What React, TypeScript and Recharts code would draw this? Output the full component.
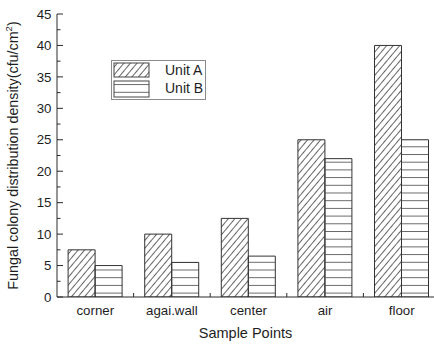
import React from "react";
import { BarChart, Bar, XAxis, YAxis } from "recharts";

const categories = ["corner", "agai.wall", "center", "air", "floor"];
const unitA = [7.5, 10, 12.5, 25, 40];
const unitB = [5, 5.5, 6.5, 22, 25];
const yTicks = [0, 2.5, 5, 7.5, 10, 12.5, 15, 17.5, 20, 22.5, 25, 27.5, 30, 32.5, 35, 37.5, 40, 42.5, 45];
const seriesNames = ["Unit A", "Unit B"];

const data = categories.map((c, i) => ({ name: c, a: unitA[i], b: unitB[i] }));

const W = 450;
const H = 346;
const M = { top: 14, right: 10, left: 0, bottom: 0 };
const YW = 57;
const XH = 49;
const BAND = (W - M.left - M.right - YW) / categories.length;
const FONT = "'Liberation Sans', Arial, sans-serif";
const TXT = "#1e1e1e";
const AX = "#2a2a2a";

const Patterns = ({ p }: { p: string }) => (
  <defs>
    <pattern id={p + "diag"} patternUnits="userSpaceOnUse" width={5} height={10} patternTransform="rotate(40)">
      <line x1={0.5} y1={0} x2={0.5} y2={10} stroke="#555" strokeWidth={0.9} />
    </pattern>
    <pattern id={p + "horiz"} patternUnits="userSpaceOnUse" width={10} height={7.7}>
      <line x1={0} y1={0.5} x2={10} y2={0.5} stroke="#555" strokeWidth={0.9} />
    </pattern>
  </defs>
);

const YTick = (props: any) => {
  const { x, y, payload } = props;
  const v = payload.value;
  const major = Math.abs(v % 5) < 1e-6;
  const ax = x + 5.5;
  return (
    <g>
      <line x1={ax} x2={ax + (major ? 6 : 3.5)} y1={y} y2={y} stroke={AX} strokeWidth={1} />
      {major && (
        <text x={x} y={y} dy={4.7} textAnchor="end" fontSize={13.3} fontFamily={FONT} fill={TXT}>
          {v}
        </text>
      )}
    </g>
  );
};

const XTick = (props: any) => {
  const { x, y, payload } = props;
  const bx = x + BAND / 2;
  return (
    <g>
      <line x1={bx} x2={bx} y1={y} y2={y - 4} stroke={AX} strokeWidth={1} />
      <text x={x} y={y + 18} textAnchor="middle" fontSize={13.3} fontFamily={FONT} fill={TXT}>
        {payload.value}
      </text>
    </g>
  );
};

const YLabel = (props: any) => {
  const vb = props.viewBox || { x: 0, y: 14, width: 57, height: 283 };
  const cx = 13;
  const cy = vb.y + vb.height / 2;
  return (
    <text
      x={cx}
      y={cy}
      transform={`rotate(-90, ${cx}, ${cy})`}
      textAnchor="middle"
      dominantBaseline="central"
      fontSize={14.3}
      fontFamily={FONT}
      fill={TXT}
    >
      Fungal colony distribution density(cfu/cm
      <tspan fontSize={9.5} dy={-5}>2</tspan>
      <tspan dy={5}>)</tspan>
    </text>
  );
};

const XLabel = (props: any) => {
  const vb = props.viewBox || { x: 57, y: 297, width: 383, height: 49 };
  return (
    <text
      x={vb.x + vb.width / 2 - 3}
      y={338}
      textAnchor="middle"
      fontSize={14.5}
      fontFamily={FONT}
      fill={TXT}
    >
      Sample Points
    </text>
  );
};

const LegendBox = () => (
  <div
    style={{
      position: "absolute",
      left: 111,
      top: 60,
      width: 93,
      height: 38,
      border: "1px solid #8a8a8a",
      background: "#fff",
      boxSizing: "content-box",
    }}
  >
    <svg width={93} height={38} style={{ display: "block" }}>
      <Patterns p="lg" />
      {seriesNames.map((n, i) => (
        <g key={n}>
          <rect
            x={2}
            y={2 + i * 18}
            width={35}
            height={i === 0 ? 14 : 16}
            fill={`url(#lg${i === 0 ? "diag" : "horiz"})`}
            stroke="#444"
            strokeWidth={1}
          />
          <text x={53} y={14 + i * 18} fontSize={14} fontFamily={FONT} fill={TXT}>
            {n}
          </text>
        </g>
      ))}
    </svg>
  </div>
);

export default function App() {
  return (
    <div style={{ position: "absolute", left: 0, top: 0, width: 434, height: 346, overflow: "hidden", background: "#fff" }}>
      <BarChart width={W} height={H} data={data} margin={M} barCategoryGap="14.5%" barGap={0}>
        <Patterns p="ch" />
        <XAxis
          dataKey="name"
          height={XH}
          tickLine={false}
          tickSize={0}
          tickMargin={0}
          tick={<XTick />}
          interval={0}
          axisLine={{ stroke: AX, strokeWidth: 1 }}
          label={<XLabel />}
        />
        <YAxis
          width={YW}
          domain={[0, 45]}
          ticks={yTicks}
          interval={0}
          tickLine={false}
          tickSize={0}
          tickMargin={5.5}
          tick={<YTick />}
          axisLine={{ stroke: AX, strokeWidth: 1 }}
          label={<YLabel />}
          allowDataOverflow
        />
        <Bar dataKey="a" name={seriesNames[0]} fill="url(#chdiag)" stroke="#333" strokeWidth={1} isAnimationActive={false} />
        <Bar dataKey="b" name={seriesNames[1]} fill="url(#chhoriz)" stroke="#333" strokeWidth={1} isAnimationActive={false} />
      </BarChart>
      <LegendBox />
    </div>
  );
}
